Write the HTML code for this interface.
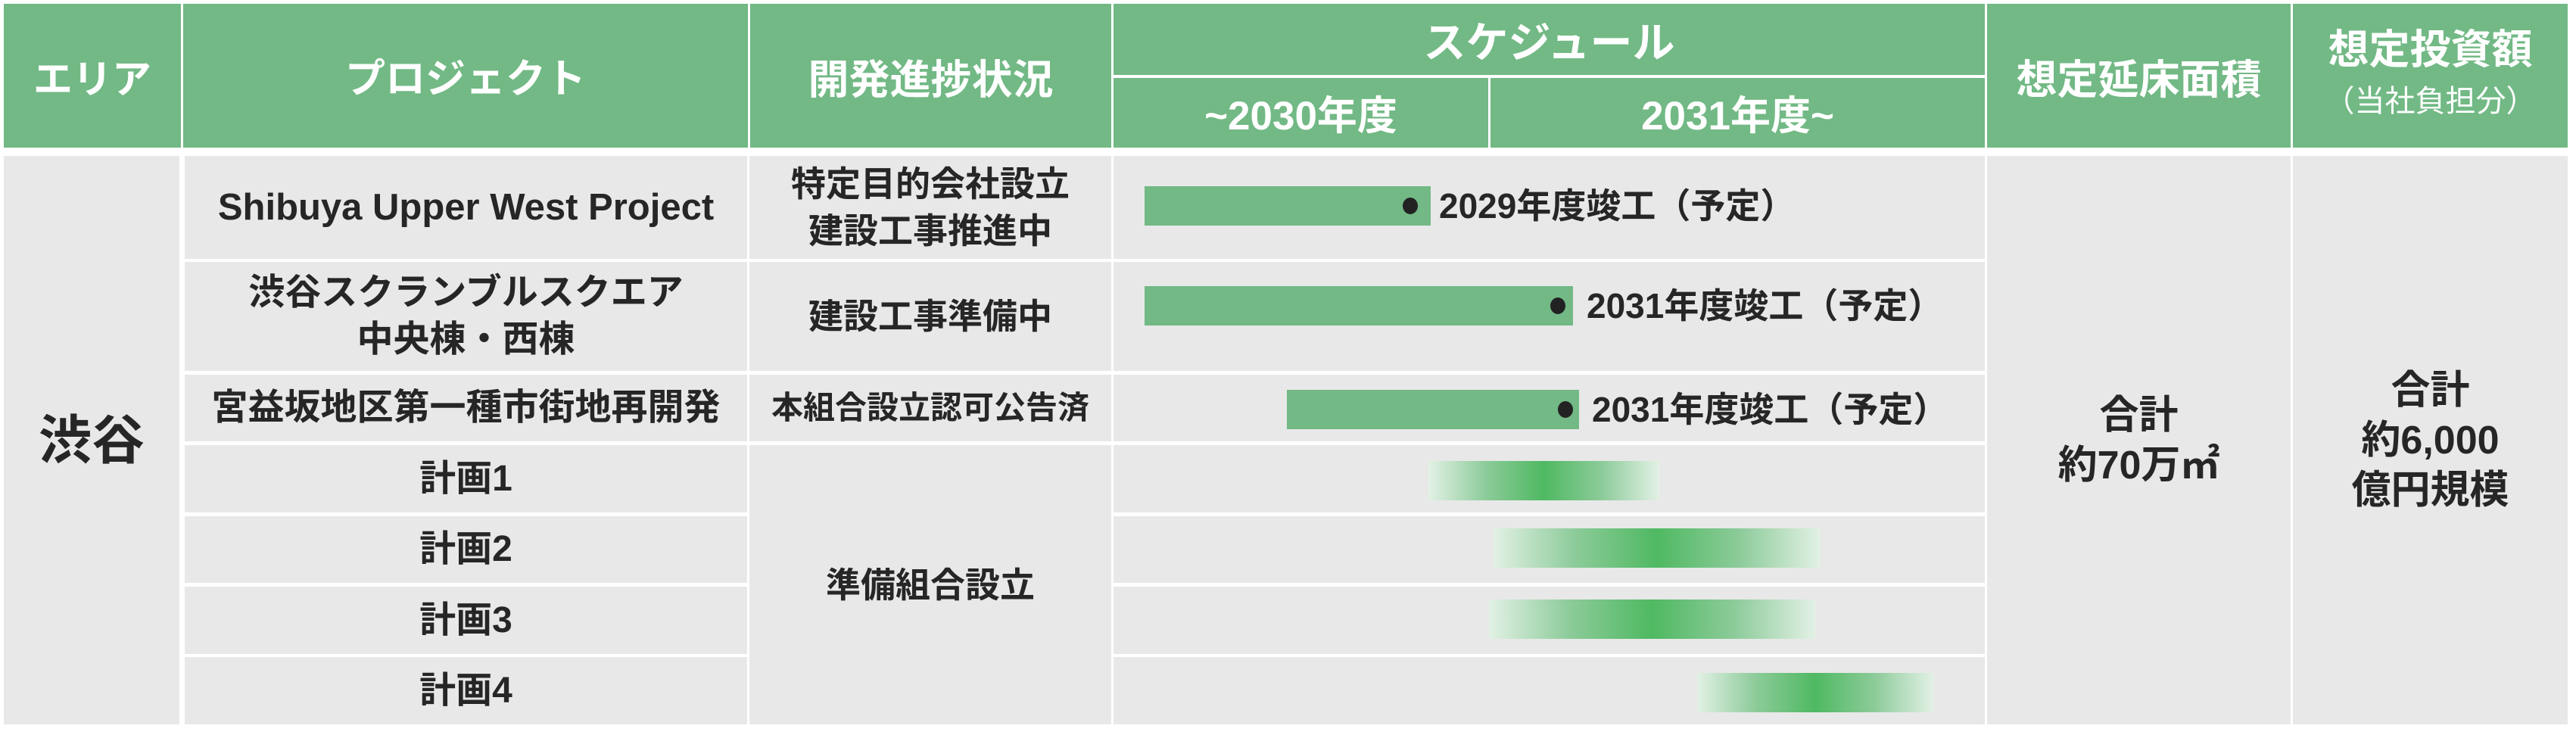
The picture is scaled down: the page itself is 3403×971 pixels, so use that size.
<!DOCTYPE html>
<html><head><meta charset="utf-8"><style>
html,body{margin:0;padding:0;background:#fff;}
body{width:3403px;height:971px;position:relative;overflow:hidden;font-family:"Liberation Sans","Noto Sans CJK JP",sans-serif;font-weight:bold;color:#262626;}
.c{position:absolute;display:flex;align-items:center;justify-content:center;text-align:center;box-sizing:border-box;}
.h{background:#72b985;color:#fff;font-size:54px;}
.b{background:#e8e8e8;font-size:48px;line-height:62px;}
.bar{position:absolute;background:#72b985;}
.g{position:absolute;background:linear-gradient(to right,#e2f1e5 0%,#8ccb99 25%,#4fb962 50%,#8ccb99 75%,#e2f1e5 100%);}
.dot{position:absolute;width:20px;height:22px;border-radius:50%;background:#222;}
.lbl{position:absolute;font-size:46px;white-space:nowrap;line-height:52px;}
</style></head><body>
<!-- header -->
<div class="c h" style="left:5px;top:5px;width:234px;height:190px;font-size:52px;">エリア</div>
<div class="c h" style="left:242px;top:5px;width:746px;height:190px;font-size:53px;">プロジェクト</div>
<div class="c h" style="left:991px;top:5px;width:477px;height:190px;">開発進捗状況</div>
<div class="c h" style="left:1471px;top:5px;width:1151px;height:94px;font-size:56px;">スケジュール</div>
<div class="c h" style="left:1471px;top:103px;width:495px;height:92px;font-size:53px;">~2030年度</div>
<div class="c h" style="left:1969px;top:103px;width:653px;height:92px;font-size:53px;">2031年度~</div>
<div class="c h" style="left:2625px;top:5px;width:401px;height:190px;">想定延床面積</div>
<div class="c h" style="left:3029px;top:5px;width:363px;height:190px;flex-direction:column;line-height:68px;"><div>想定投資額</div><div style="font-size:40px;font-weight:normal;">（当社負担分）</div></div>
<!-- body -->
<div class="c b" style="left:5px;top:206px;width:232px;height:751px;font-size:70px;">渋谷</div>
<div class="c b" style="left:244px;top:206px;width:743px;height:136px;font-size:49px;">Shibuya Upper West Project</div>
<div class="c b" style="left:244px;top:346px;width:743px;height:144px;">渋谷スクランブルスクエア<br>中央棟・西棟</div>
<div class="c b" style="left:244px;top:495px;width:743px;height:88px;">宮益坂地区第一種市街地再開発</div>
<div class="c b" style="left:244px;top:588px;width:743px;height:89px;">計画1</div>
<div class="c b" style="left:244px;top:682px;width:743px;height:88px;">計画2</div>
<div class="c b" style="left:244px;top:775px;width:743px;height:89px;">計画3</div>
<div class="c b" style="left:244px;top:868px;width:743px;height:89px;">計画4</div>
<div class="c b" style="left:990px;top:206px;width:478px;height:136px;font-size:46px;">特定目的会社設立<br>建設工事推進中</div>
<div class="c b" style="left:990px;top:346px;width:478px;height:144px;font-size:46px;">建設工事準備中</div>
<div class="c b" style="left:990px;top:495px;width:478px;height:88px;font-size:42px;">本組合設立認可公告済</div>
<div class="c b" style="left:990px;top:588px;width:478px;height:369px;font-size:46px;">準備組合設立</div>
<div class="c b" style="left:1471px;top:206px;width:1151px;height:136px;"></div>
<div class="c b" style="left:1471px;top:346px;width:1151px;height:144px;"></div>
<div class="c b" style="left:1471px;top:495px;width:1151px;height:88px;"></div>
<div class="c b" style="left:1471px;top:588px;width:1151px;height:89px;"></div>
<div class="c b" style="left:1471px;top:682px;width:1151px;height:88px;"></div>
<div class="c b" style="left:1471px;top:775px;width:1151px;height:89px;"></div>
<div class="c b" style="left:1471px;top:868px;width:1151px;height:89px;"></div>
<div class="c b" style="left:2625px;top:206px;width:401px;height:751px;font-size:52px;line-height:66px;">合計<br>約70万㎡</div>
<div class="c b" style="left:3029px;top:206px;width:363px;height:751px;font-size:52px;line-height:66px;">合計<br>約6,000<br>億円規模</div>
<!-- bars -->
<div class="bar" style="left:1512px;top:246px;width:378px;height:52px;"></div>
<div class="dot" style="left:1853px;top:261px;"></div>
<div class="lbl" style="left:1901px;top:246px;">2029年度竣工（予定）</div>
<div class="bar" style="left:1512px;top:378px;width:566px;height:52px;"></div>
<div class="dot" style="left:2048px;top:393px;"></div>
<div class="lbl" style="left:2096px;top:378px;">2031年度竣工（予定）</div>
<div class="bar" style="left:1700px;top:515px;width:386px;height:52px;"></div>
<div class="dot" style="left:2058px;top:530px;"></div>
<div class="lbl" style="left:2103px;top:515px;">2031年度竣工（予定）</div>
<div class="g" style="left:1887px;top:609px;width:305px;height:52px;"></div>
<div class="g" style="left:1973px;top:698px;width:432px;height:52px;"></div>
<div class="g" style="left:1967px;top:792px;width:431px;height:52px;"></div>
<div class="g" style="left:2242px;top:889px;width:312px;height:52px;"></div>
</body></html>
